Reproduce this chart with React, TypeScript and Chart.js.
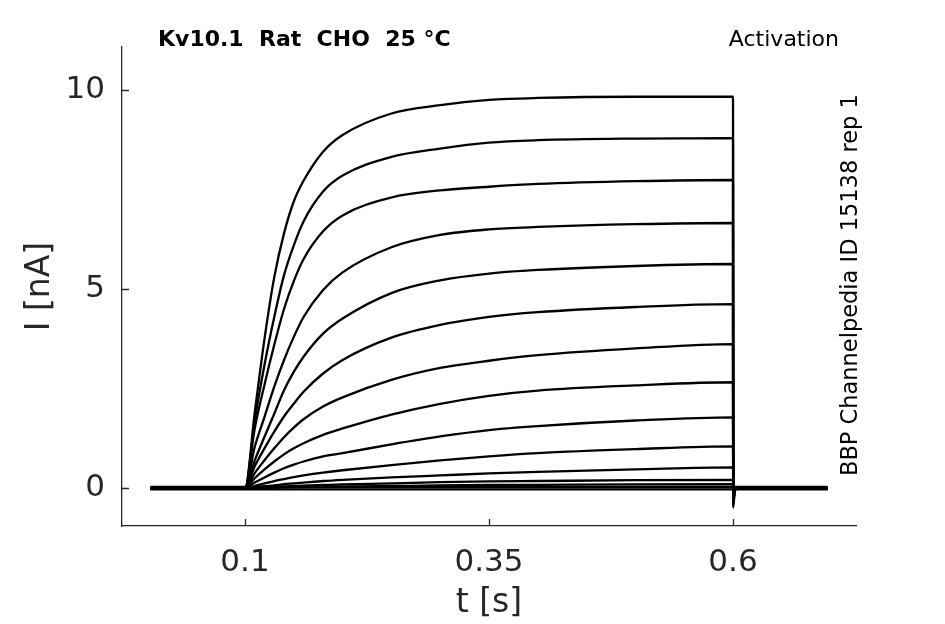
import { useEffect, useRef } from "react"
import { Chart, registerables, Plugin } from "chart.js"

Chart.register(...registerables)

// sample times (s): baseline, step onset, rise, plateau, step end, tail spike, baseline
const times = [0.003, 0.1, 0.11, 0.12, 0.13, 0.14, 0.15, 0.16, 0.18, 0.2, 0.25, 0.3, 0.35, 0.4, 0.5, 0.6, 0.6002, 0.6015, 0.604, 0.697]

// currents (nA) per voltage step
const trace1 = [0, 0, 1.9, 3.75, 5.3, 6.4, 7.2, 7.72, 8.45, 8.87, 9.41, 9.62, 9.75, 9.8, 9.83, 9.83, -0.48, -0.15, 0, 0]
const trace2 = [0, 0, 1.7, 3.1, 4.3, 5.35, 6.1, 6.7, 7.45, 7.85, 8.32, 8.53, 8.68, 8.74, 8.78, 8.79, -0.42, -0.12, 0, 0]
const trace3 = [0, 0, 1.5, 2.6, 3.6, 4.5, 5.2, 5.75, 6.45, 6.85, 7.3, 7.48, 7.57, 7.64, 7.71, 7.74, -0.38, -0.1, 0, 0]
const trace4 = [0, 0, 1.04, 1.79, 2.55, 3.22, 3.8, 4.3, 4.98, 5.42, 6.05, 6.36, 6.5, 6.56, 6.63, 6.66, -0.34, -0.1, 0, 0]
const trace5 = [0, 0, 0.7, 1.29, 1.87, 2.46, 2.92, 3.3, 3.88, 4.26, 4.9, 5.22, 5.39, 5.48, 5.58, 5.63, -0.3, -0.08, 0, 0]
const trace6 = [0, 0, 0.55, 1.0, 1.42, 1.8, 2.12, 2.42, 2.88, 3.22, 3.78, 4.1, 4.3, 4.42, 4.55, 4.62, -0.26, -0.07, 0, 0]
const trace7 = [0, 0, 0.38, 0.7, 1.0, 1.28, 1.52, 1.73, 2.05, 2.28, 2.72, 3.02, 3.2, 3.34, 3.51, 3.62, -0.22, -0.06, 0, 0]
const trace8 = [0, 0, 0.25, 0.47, 0.67, 0.85, 1.0, 1.13, 1.34, 1.5, 1.85, 2.12, 2.32, 2.45, 2.58, 2.66, -0.18, -0.05, 0, 0]
const trace9 = [0, 0, 0.14, 0.27, 0.39, 0.5, 0.59, 0.67, 0.8, 0.88, 1.1, 1.3, 1.46, 1.56, 1.7, 1.78, -0.14, -0.04, 0, 0]
const trace10 = [0, 0, 0.06, 0.12, 0.18, 0.23, 0.28, 0.32, 0.39, 0.45, 0.58, 0.7, 0.8, 0.88, 0.98, 1.05, -0.1, -0.03, 0, 0]
const trace11 = [0, 0, 0.02, 0.05, 0.07, 0.1, 0.12, 0.14, 0.18, 0.21, 0.27, 0.32, 0.37, 0.41, 0.47, 0.52, -0.08, -0.02, 0, 0]
const trace12 = [0, 0, 0.01, 0.02, 0.03, 0.045, 0.055, 0.065, 0.08, 0.095, 0.12, 0.15, 0.17, 0.18, 0.2, 0.21, -0.05, 0, 0, 0]
const trace13 = [0, 0, 0, 0.01, 0.015, 0.02, 0.025, 0.03, 0.035, 0.04, 0.055, 0.07, 0.08, 0.085, 0.095, 0.1, -0.03, 0, 0, 0]
const traceFlatHi = [0.03, 0.03, 0.03, 0.03, 0.03, 0.03, 0.03, 0.03, 0.03, 0.03, 0.03, 0.03, 0.03, 0.03, 0.03, 0.03, 0.01, 0.03, 0.03, 0.03]
const traceFlatLo = [-0.03, -0.03, -0.03, -0.03, -0.03, -0.03, -0.03, -0.03, -0.03, -0.03, -0.03, -0.03, -0.03, -0.03, -0.03, -0.03, -0.05, -0.03, -0.03, -0.03]

const traces = [trace1, trace2, trace3, trace4, trace5, trace6, trace7, trace8, trace9, trace10, trace11, trace12, trace13, traceFlatHi, traceFlatLo]

const xTicks = [0.1, 0.35, 0.6]
const yTicks = [0, 5, 10]

const titleText = "Kv10.1  Rat  CHO  25 °C"
const protocolText = "Activation"
const sourceText = "BBP Channelpedia ID 15138 rep 1"

const FONT = "'DejaVu Sans', sans-serif"
const INK = "#262626"

const decorPlugin: Plugin = {
  id: "decor",
  afterDraw(chart) {
    const { ctx, chartArea, scales } = chart
    ctx.save()
    // inward tick marks
    ctx.strokeStyle = INK
    ctx.lineWidth = 1.3
    ctx.beginPath()
    xTicks.forEach((v) => {
      const px = Math.round(scales.x.getPixelForValue(v)) + 0.5
      ctx.moveTo(px, chartArea.bottom)
      ctx.lineTo(px, chartArea.bottom - 7)
    })
    yTicks.forEach((v) => {
      const py = Math.round(scales.y.getPixelForValue(v)) + 0.5
      ctx.moveTo(chartArea.left, py)
      ctx.lineTo(chartArea.left + 7, py)
    })
    ctx.stroke()

    ctx.fillStyle = "#000"
    ctx.textBaseline = "alphabetic"
    ctx.font = `bold 22px ${FONT}`
    ctx.textAlign = "left"
    ctx.fillText(titleText, 158, 46)

    ctx.font = `22px ${FONT}`
    ctx.textAlign = "right"
    ctx.fillText(protocolText, 839, 46)

    ctx.font = `22.5px ${FONT}`
    ctx.translate(857, 476)
    ctx.rotate(-Math.PI / 2)
    ctx.textAlign = "left"
    ctx.fillText(sourceText, 0, 0)
    ctx.restore()
  },
}

export default function App() {
  const chartRef = useRef<HTMLCanvasElement>(null)

  useEffect(() => {
    if (!chartRef.current) return

    const chart = new Chart(chartRef.current, {
      type: "line",
      data: {
        datasets: traces.map((tr, i) => ({
          label: `step ${i + 1}`,
          data: tr.map((y, k) => ({ x: times[k], y })),
          borderColor: "#000000",
          borderWidth: 2.3,
          pointRadius: 0,
          fill: false,
          cubicInterpolationMode: "monotone" as const,
        })),
      },
      options: {
        animation: false,
        responsive: true,
        maintainAspectRatio: false,
        events: [],
        layout: {
          padding: { left: 0, top: 47, right: 89, bottom: 0 },
        },
        plugins: {
          legend: { display: false },
          tooltip: { enabled: false },
        },
        scales: {
          x: {
            type: "linear",
            min: -0.026,
            max: 0.726,
            afterFit: (s) => {
              s.height = 98
            },
            afterBuildTicks: (s) => {
              s.ticks = xTicks.map((value) => ({ value }))
            },
            grid: { display: false, drawTicks: false },
            border: { display: true, color: INK, width: 1.3 },
            ticks: {
              color: INK,
              font: { family: FONT, size: 31 },
              padding: 18,
              maxRotation: 0,
              callback: (v) => String(v),
            },
            title: {
              display: true,
              text: "t [s]",
              color: INK,
              font: { family: FONT, size: 33 },
              padding: { top: 0, bottom: 1 },
            },
          },
          y: {
            type: "linear",
            min: -0.95,
            max: 11.08,
            afterFit: (s) => {
              s.width = 122
            },
            afterBuildTicks: (s) => {
              s.ticks = yTicks.map((value) => ({ value }))
            },
            grid: { display: false, drawTicks: false },
            border: { display: true, color: INK, width: 1.3 },
            ticks: {
              color: INK,
              font: { family: FONT, size: 31 },
              padding: 17,
              callback: (v) => String(v),
            },
            title: {
              display: true,
              text: "I [nA]",
              color: INK,
              font: { family: FONT, size: 33 },
              padding: { top: 21, bottom: 0 },
            },
          },
        },
      },
      plugins: [decorPlugin],
    })

    return () => {
      chart.destroy()
    }
  }, [])

  return (
    <div style={{ position: "absolute", left: 0, top: 0, width: 945, height: 624, background: "#ffffff" }}>
      <canvas ref={chartRef} />
    </div>
  )
}
